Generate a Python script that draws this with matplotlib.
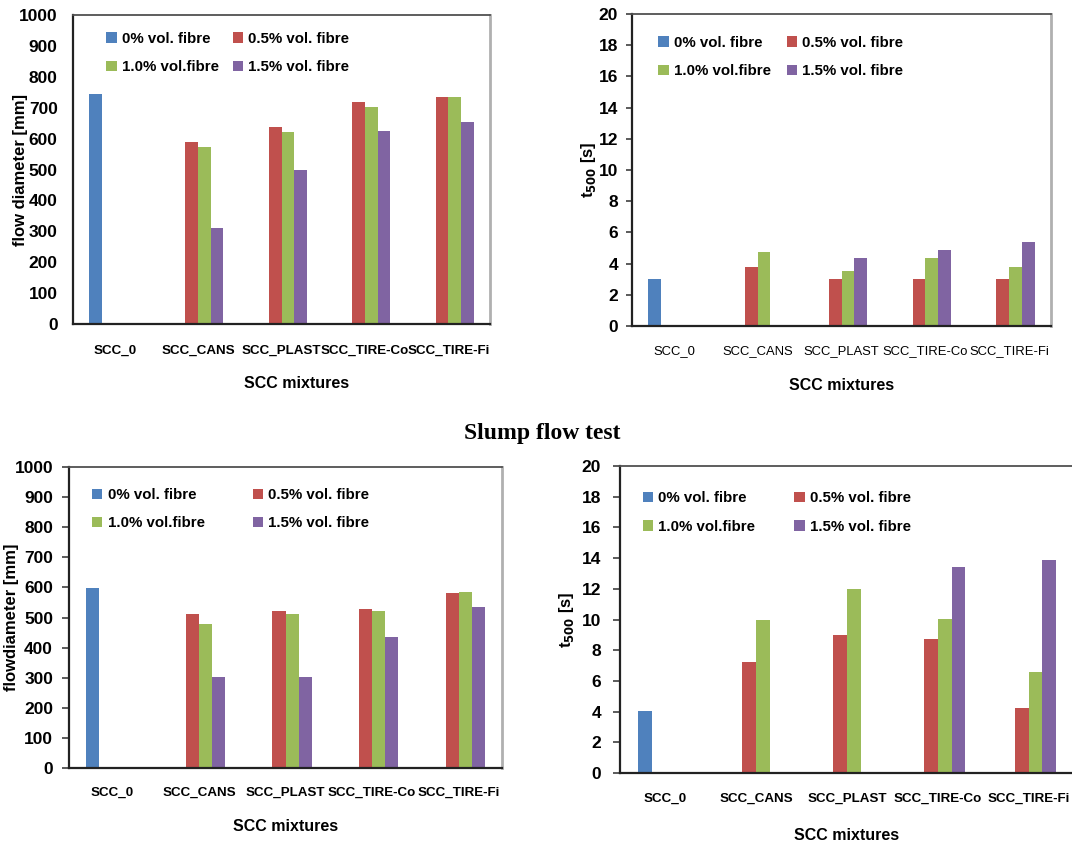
import numpy as np
import matplotlib
matplotlib.use("Agg")
import matplotlib.pyplot as plt

plt.rcParams["font.family"] = ["Liberation Sans", "DejaVu Sans"]

nan = np.nan

CATEGORIES = ["SCC_0", "SCC_CANS", "SCC_PLAST", "SCC_TIRE-Co", "SCC_TIRE-Fi"]
SERIES = ["0% vol. fibre", "0.5% vol. fibre", "1.0% vol.fibre", "1.5% vol. fibre"]
COLORS = ["#4F81BD", "#C0504D", "#9BBB59", "#8064A2"]

# top row - flow diameter [mm]
flow_top_00 = [745, nan, nan, nan, nan]
flow_top_05 = [nan, 588, 636, 719, 734]
flow_top_10 = [nan, 572, 620, 703, 734]
flow_top_15 = [nan, 310, 497, 624, 653]

# top row - t500 [s]
t500_top_00 = [3.0, nan, nan, nan, nan]
t500_top_05 = [nan, 3.8, 3.0, 3.0, 3.0]
t500_top_10 = [nan, 4.75, 3.55, 4.35, 3.8]
t500_top_15 = [nan, nan, 4.35, 4.85, 5.4]

# bottom row - flow diameter [mm]
flow_bot_00 = [597, nan, nan, nan, nan]
flow_bot_05 = [nan, 510, 522, 529, 581]
flow_bot_10 = [nan, 480, 510, 522, 585]
flow_bot_15 = [nan, 302, 302, 435, 535]

# bottom row - t500 [s]
t500_bot_00 = [4.05, nan, nan, nan, nan]
t500_bot_05 = [nan, 7.2, 9.0, 8.75, 4.25]
t500_bot_10 = [nan, 9.95, 12.0, 10.05, 6.6]
t500_bot_15 = [nan, nan, nan, 13.4, 13.85]

BAR_W = 0.152

fig = plt.figure(figsize=(10.72, 8.46), dpi=100)


def px_axes(x0, y0, x1, y1):
    W, H = 1072, 846
    return fig.add_axes([x0 / W, 1 - y1 / H, (x1 - x0) / W, (y1 - y0) / H])


def draw(ax, series_vals, ymax, ystep, ylabel, ylab_x, xlab_x, xlab_y,
         leg_anchor, colspace, ytick_len, ytick_pad, xtick_pad, xtick_bold=True):
    x = np.arange(len(CATEGORIES))
    for i, (vals, lab, col) in enumerate(zip(series_vals, SERIES, COLORS)):
        ax.bar(x + (i - 1.5) * BAR_W, vals, width=BAR_W, color=col,
               edgecolor="none", label=lab, zorder=2)
    ax.set_xlim(-0.5, len(CATEGORIES) - 0.5)
    ax.set_ylim(0, ymax)
    ax.set_yticks(np.arange(0, ymax + ystep / 2, ystep))
    ax.set_xticks(x)
    if xtick_bold:
        ax.set_xticklabels(CATEGORIES, fontsize=9.6, fontweight="bold")
    else:
        ax.set_xticklabels(CATEGORIES, fontsize=9.4)
    for t in ax.get_yticklabels():
        t.set_fontweight("bold")
        t.set_fontsize(12.5)
    ax.tick_params(axis="x", length=0, pad=xtick_pad)
    ax.tick_params(axis="y", length=ytick_len, width=1.2, pad=ytick_pad,
                   color="#404040")
    for s in ["left", "bottom"]:
        ax.spines[s].set_color("#222222")
        ax.spines[s].set_linewidth(1.6)
    ax.spines["top"].set_color("#505050")
    ax.spines["top"].set_linewidth(1.3)
    ax.spines["right"].set_color("#b0b0b0")
    ax.spines["right"].set_linewidth(2)

    ax.set_ylabel(ylabel, fontsize=12, fontweight="bold")
    ax.yaxis.set_label_coords(ylab_x, 0.5)
    ax.yaxis.label.set_va("center")
    ax.set_xlabel("SCC mixtures", fontsize=11.5, fontweight="bold")
    ax.xaxis.set_label_coords(xlab_x, xlab_y)
    ax.xaxis.label.set_va("center")

    h, l = ax.get_legend_handles_labels()
    order = [0, 2, 1, 3]
    ax.legend([h[k] for k in order], [l[k] for k in order], ncol=2,
              loc="upper left", bbox_to_anchor=leg_anchor, frameon=False,
              prop={"weight": "bold", "size": 10.8}, handlelength=0.7,
              handleheight=0.7, handletextpad=0.35, labelspacing=0.95,
              columnspacing=colspace, borderpad=0, borderaxespad=0)


ax1 = px_axes(73, 15, 490, 324)
draw(ax1, [flow_top_00, flow_top_05, flow_top_10, flow_top_15], 1000, 100,
     "flow diameter [mm]", -0.127, 0.535, -0.191, (0.08, 0.945), 0.9,
     0, 11, 15)

ax2 = px_axes(632, 14, 1051, 326)
draw(ax2, [t500_top_00, t500_top_05, t500_top_10, t500_top_15], 20, 2,
     "t$_{\\mathbf{500}}$ [s]", -0.105, 0.5, -0.192, (0.063, 0.93), 1.03,
     4, 6, 14, xtick_bold=False)

ax3 = px_axes(69, 467, 502, 768)
draw(ax3, [flow_bot_00, flow_bot_05, flow_bot_10, flow_bot_15], 1000, 100,
     "flowdiameter [mm]", -0.132, 0.5, -0.196, (0.053, 0.93), 3.2,
     5, 6.5, 13.5)

ax4 = px_axes(620, 466, 1074, 773)
draw(ax4, [t500_bot_00, t500_bot_05, t500_bot_10, t500_bot_15], 20, 2,
     "t$_{\\mathbf{500}}$ [s]", -0.117, 0.5, -0.203, (0.05, 0.917), 2.6,
     5, 8.5, 14)

fig.text(542 / 1072, 1 - 433 / 846, "Slump flow test", ha="center", va="center",
         fontsize=17, fontweight="bold", family=["Liberation Serif", "DejaVu Serif"])

fig.savefig("out.png", dpi=100)
